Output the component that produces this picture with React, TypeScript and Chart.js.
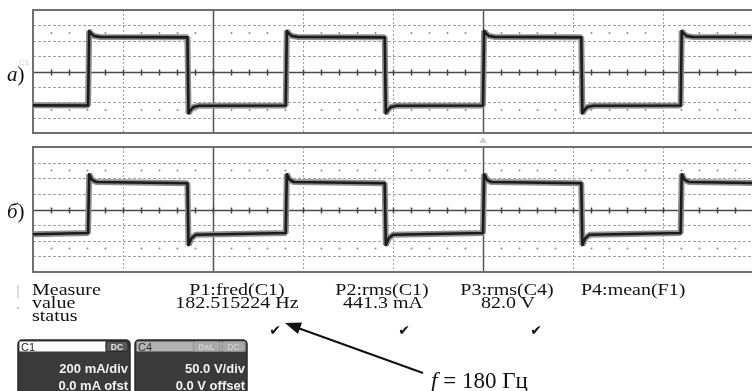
import React, { useEffect, useRef } from "react";
import { Chart, registerables } from "chart.js";

Chart.register(...registerables);

// ---- time axis (2.5 ms/div, 8 visible divisions) ----
const X_MIN_MS = 0;
const X_MAX_MS = 20;
const MS_PER_DIV = 2.5;
const SUB_PER_DIV = 5;
const CURSOR_MS = [5, 12.5];
const DIVS_HALF = 4;
const DOT_ROWS_DIV = [2.5, -2.5];

// ---- channel scales ----
const MA_PER_DIV = 200;
const V_PER_DIV = 50;

// ---- trace a) : current C1 (mA) ----
const currentTimeMs = [
  0.0, 1.53, 1.56, 1.62, 1.7, 1.85, 4.29, 4.32, 4.38, 4.46, 4.62,
  7.02, 7.05, 7.11, 7.19, 7.34, 9.77, 9.8, 9.86, 9.94, 10.1,
  12.5, 12.53, 12.59, 12.67, 12.82, 15.23, 15.26, 15.32, 15.4, 15.56,
  17.99, 18.02, 18.08, 18.16, 18.31, 20.0,
];
const currentMa = [
  -440, -442, 528, 490, 462, 450, 444, -545, -500, -462, -446,
  -442, 528, 490, 462, 450, 444, -545, -500, -462, -446,
  -442, 528, 490, 462, 450, 444, -545, -500, -462, -446,
  -442, 528, 490, 462, 450, 446,
];

// ---- trace б) : voltage C4 (V) ----
const voltageTimeMs = [
  0.0, 1.53, 1.56, 1.64, 1.76, 4.29, 4.32, 4.4, 4.52,
  7.02, 7.05, 7.13, 7.25, 9.77, 9.8, 9.88, 10.0,
  12.5, 12.53, 12.61, 12.73, 15.23, 15.26, 15.34, 15.46,
  17.99, 18.02, 18.1, 18.22, 20.0,
];
const voltageV = [
  -79, -75, 113, 95, 88, 84, -114, -92, -81,
  -75, 113, 95, 88, 84, -114, -92, -81,
  -75, 113, 95, 88, 84, -114, -92, -81,
  -75, 113, 95, 88, 85,
];

// ---- measurement table ----
const measureRowLabels = ["Measure", "value", "status"];
const measureHeaders = ["P1:fred(C1)", "P2:rms(C1)", "P3:rms(C4)", "P4:mean(F1)"];
const measureValues = ["182.515224 Hz", "441.3 mA", "82.0 V", ""];
const measureStatus = [true, true, true, false];
const annotationText = "180 Гц";

const scopeGrid = {
  id: "scopeGrid",
  beforeDatasetsDraw(chart: any, _args: any, opts: any) {
    const { ctx, chartArea: a, scales } = chart;
    const xs = scales.x;
    const ys = scales.y;
    const yDiv = opts.yDiv;
    ctx.save();
    ctx.lineWidth = 1;
    ctx.strokeStyle = "#a2a2a2";
    ctx.setLineDash([3, 2]);
    for (let k = -DIVS_HALF + 1; k < DIVS_HALF; k++) {
      if (k === 0) continue;
      const y = Math.round(ys.getPixelForValue(k * yDiv)) + 0.5;
      ctx.beginPath();
      ctx.moveTo(a.left, y);
      ctx.lineTo(a.right, y);
      ctx.stroke();
    }
    for (let t = X_MIN_MS + MS_PER_DIV; t < X_MAX_MS - 1e-6; t += MS_PER_DIV) {
      const x = Math.round(xs.getPixelForValue(t)) + 0.5;
      const cursor = CURSOR_MS.some((c) => Math.abs(c - t) < 1e-6);
      if (cursor) {
        ctx.setLineDash([]);
        ctx.strokeStyle = "#555";
        ctx.lineWidth = 1.5;
      } else {
        ctx.setLineDash([2, 2]);
        ctx.strokeStyle = "#a0a0a0";
        ctx.lineWidth = 1;
      }
      ctx.beginPath();
      ctx.moveTo(x, a.top);
      ctx.lineTo(x, a.bottom);
      ctx.stroke();
    }
    ctx.setLineDash([]);
    const yc = Math.round(ys.getPixelForValue(0)) + 0.5;
    ctx.strokeStyle = "#4a4a4a";
    ctx.lineWidth = 1.5;
    ctx.beginPath();
    ctx.moveTo(a.left, yc);
    ctx.lineTo(a.right, yc);
    ctx.stroke();
    const subStep = MS_PER_DIV / SUB_PER_DIV;
    ctx.lineWidth = 1.5;
    ctx.strokeStyle = "#444";
    ctx.fillStyle = "#8a8a8a";
    for (let i = 1; X_MIN_MS + i * subStep < X_MAX_MS - 1e-6; i++) {
      const t = X_MIN_MS + i * subStep;
      const x = Math.round(xs.getPixelForValue(t)) + 0.5;
      ctx.beginPath();
      ctx.moveTo(x, yc - 3);
      ctx.lineTo(x, yc + 3);
      ctx.stroke();
      if (i % SUB_PER_DIV !== 0) {
        for (const r of DOT_ROWS_DIV) {
          const yd = ys.getPixelForValue(r * yDiv);
          ctx.beginPath();
          ctx.arc(x, yd, 1, 0, Math.PI * 2);
          ctx.fill();
        }
      }
    }
    ctx.strokeStyle = "#707070";
    ctx.lineWidth = 2;
    ctx.strokeRect(a.left, a.top, a.right - a.left, a.bottom - a.top);
    ctx.restore();
  },
};

function buildChart(canvas: HTMLCanvasElement, times: number[], values: number[], yDiv: number, padding: any) {
  const pts = () => times.map((t, i) => ({ x: t, y: values[i] }));
  return new Chart(canvas, {
    type: "line",
    data: {
      datasets: [
        { data: pts(), borderColor: "#8e8e8e", borderWidth: 6, pointRadius: 0, tension: 0, order: 2, borderJoinStyle: "bevel" },
        { data: pts(), borderColor: "#1b1b1b", borderWidth: 2.6, pointRadius: 0, tension: 0, order: 1, borderJoinStyle: "round" },
      ],
    } as any,
    options: {
      animation: false,
      responsive: false,
      devicePixelRatio: 1,
      events: [],
      layout: { padding },
      scales: {
        x: { type: "linear", min: X_MIN_MS, max: X_MAX_MS, display: false },
        y: { type: "linear", min: -DIVS_HALF * yDiv, max: DIVS_HALF * yDiv, display: false },
      },
      plugins: { legend: { display: false }, tooltip: { enabled: false }, scopeGrid: { yDiv } } as any,
    },
    plugins: [scopeGrid as any],
  });
}

const serif = "'Liberation Serif', 'Times New Roman', serif";
const sans = "'Liberation Sans', Arial, sans-serif";

function SqText({ x, y, anchor, children }: { x: number; y: number; anchor?: string; children: any }) {
  return (
    <text
      transform={`translate(${x} ${y}) scale(1 0.88)`}
      x={0}
      y={0}
      fontFamily={serif}
      fontSize={20}
      fill="#111"
      textAnchor={anchor || "start"}
    >
      {children}
    </text>
  );
}

function Check({ x, y }: { x: number; y: number }) {
  return (
    <text x={x} y={y} fontFamily="'DejaVu Sans', sans-serif" fontSize={14} textAnchor="middle" fill="#111">
      ✔
    </text>
  );
}

export default function App() {
  const refA = useRef<HTMLCanvasElement>(null);
  const refB = useRef<HTMLCanvasElement>(null);

  useEffect(() => {
    const a = buildChart(refA.current!, currentTimeMs, currentMa, MA_PER_DIV, { left: 33, right: 7, top: 10, bottom: 7 });
    const b = buildChart(refB.current!, voltageTimeMs, voltageV, V_PER_DIV, { left: 33, right: 7, top: 7, bottom: 8 });
    return () => {
      a.destroy();
      b.destroy();
    };
  }, []);

  const colX = [237, 382, 507, 581];
  const rowY = [295, 308, 321];
  const statusY = 335;

  return (
    <div style={{ position: "absolute", left: 0, top: 0, width: 752, height: 391, overflow: "hidden", background: "#fff" }}>
      <canvas ref={refA} width={760} height={140} style={{ position: "absolute", left: 0, top: 0, width: 760, height: 140 }} />
      <canvas ref={refB} width={760} height={140} style={{ position: "absolute", left: 0, top: 140, width: 760, height: 140 }} />
      <svg width={752} height={391} style={{ position: "absolute", left: 0, top: 0, pointerEvents: "none" }}>
        <text x={7} y={81} fontFamily={serif} fontSize={21} fill="#111">
          <tspan fontStyle="italic">a</tspan>)
        </text>
        <text x={7} y={218} fontFamily={serif} fontSize={21} fill="#111">
          <tspan fontStyle="italic">б</tspan>)
        </text>
        <text x={19} y={65} fontFamily={sans} fontSize={8} fill="#cfcfcf">C1</text>
        <polygon points="479,143 483,137 487,143" fill="#d0d0d0" />
        <line x1={18} y1={285} x2={18} y2={298} stroke="#b5b5b5" strokeWidth={1} />
        <circle cx={18} cy={308} r={1} fill="#b5b5b5" />

        {measureRowLabels.map((l, i) => (
          <SqText key={l} x={32} y={rowY[i]}>
            {l}
          </SqText>
        ))}
        {measureHeaders.map((h, i) => (
          <SqText key={h} x={colX[i]} y={rowY[0]} anchor={i === 3 ? "start" : "middle"}>
            {h}
          </SqText>
        ))}
        {measureValues.map((v, i) =>
          v ? (
            <SqText key={v} x={colX[i] + (i === 0 ? 0 : 1)} y={rowY[1]} anchor="middle">
              {v}
            </SqText>
          ) : null
        )}
        {measureStatus.map((s, i) => (s ? <Check key={i} x={[275, 404, 536][i]} y={statusY} /> : null))}

        <line x1={423} y1={373} x2={298} y2={328} stroke="#111" strokeWidth={2} />
        <polygon points="285,323 302,322.5 298,334" fill="#111" />
        <text x={431} y={388} fontFamily={serif} fontSize={23} fill="#111">
          <tspan fontStyle="italic">f</tspan>
          <tspan> = </tspan>
          <tspan>{annotationText}</tspan>
        </text>

        <rect x={18} y={340} width={112} height={60} rx={4} fill="#3a3a3a" stroke="#2a2a2a" strokeWidth={1.5} />
        <rect x={19.5} y={341.5} width={86} height={10} fill="#fff" />
        <text x={21} y={350.5} fontFamily={sans} fontSize={11} fill="#222">C1</text>
        <rect x={106} y={341.5} width={22} height={10} rx={3} fill="#5a5a5a" stroke="#222" strokeWidth={0.8} />
        <text x={117} y={350} fontFamily={sans} fontSize={8.5} fontWeight="bold" fill="#e6e6e6" textAnchor="middle">DC</text>
        <text x={128} y={373} fontFamily={sans} fontWeight="bold" fontSize={13} fill="#f2f2f2" textAnchor="end">200 mA/div</text>
        <text x={128} y={390} fontFamily={sans} fontWeight="bold" fontSize={13} fill="#f2f2f2" textAnchor="end">0.0 mA ofst</text>

        <rect x={135} y={340} width={112} height={60} rx={4} fill="#3a3a3a" stroke="#2a2a2a" strokeWidth={1.5} />
        <rect x={136.5} y={341.5} width={109} height={10} fill="#b3b3b3" />
        <text x={138} y={350.5} fontFamily={sans} fontSize={11} fill="#333">C4</text>
        <rect x={193} y={341.5} width={27} height={10} rx={3} fill="#a9a9a9" stroke="#8a8a8a" strokeWidth={0.8} />
        <text x={206.5} y={350} fontFamily={sans} fontSize={8.5} fill="#d8d8d8" textAnchor="middle">BwL</text>
        <rect x={222} y={341.5} width={23} height={10} rx={3} fill="#a9a9a9" stroke="#8a8a8a" strokeWidth={0.8} />
        <text x={233.5} y={350} fontFamily={sans} fontSize={8.5} fill="#d8d8d8" textAnchor="middle">DC</text>
        <text x={245} y={373} fontFamily={sans} fontWeight="bold" fontSize={13} fill="#f2f2f2" textAnchor="end">50.0 V/div</text>
        <text x={245} y={390} fontFamily={sans} fontWeight="bold" fontSize={13} fill="#f2f2f2" textAnchor="end">0.0 V offset</text>
      </svg>
    </div>
  );
}
